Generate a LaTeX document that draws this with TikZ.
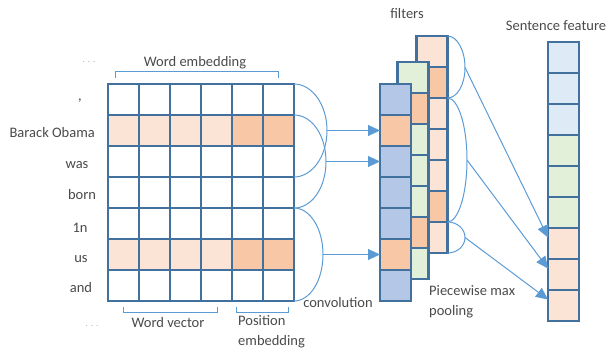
\documentclass[tikz,border=0pt]{standalone}
\usepackage{fontspec}
\setmainfont{Carlito}
\usetikzlibrary{arrows.meta}
\definecolor{bord}{HTML}{41719C}
\definecolor{lnk}{HTML}{5B9BD5}
\definecolor{txt}{HTML}{4A4A4A}
\definecolor{pl}{HTML}{FBE4D5}
\definecolor{pd}{HTML}{F7C7A6}
\definecolor{bb}{HTML}{B4C7E7}
\definecolor{gg}{HTML}{E2F0D9}
\definecolor{sb}{HTML}{DEEBF7}
\begin{document}
\begin{tikzpicture}[x=1pt,y=-1pt,
  cell/.style={draw=bord, line width=2.2pt, minimum width=31pt, minimum height=31pt, inner sep=0pt, outer sep=0pt},
  lbl/.style={text=txt, font=\fontsize{14.5}{20}\selectfont, inner sep=0pt},
  dots/.style={text=gray!70, font=\fontsize{9}{10}\selectfont, inner sep=0pt},
  link/.style={draw=lnk, line width=1pt},
  arr/.style={link, -{Triangle[length=12pt,width=11pt]}},
  brk/.style={draw=lnk, line width=1pt}
]
\useasboundingbox (0,0) rectangle (608,350);

% input grid
\foreach \r in {0,2,3,4,6}
  \foreach \c in {0,...,5}
    \node[cell, fill=white] (g-\r-\c) at ({123.5+31*\c},{99.5+31*\r}) {};
\foreach \r in {1,5}
  \foreach \c/\f in {0/pl,1/pl,2/pl,3/pl,4/pd,5/pd}
    \node[cell, fill=\f] (g-\r-\c) at ({123.5+31*\c},{99.5+31*\r}) {};

% filter columns (back, green, blue)
\foreach \r/\f in {0/pl,1/pd,2/pl,3/pl,4/pl,5/pd,6/pl}
  \node[cell, fill=\f] (k-\r) at (432,{51.5+31*\r}) {};
\foreach \r/\f in {0/gg,1/pd,2/gg,3/gg,4/gg,5/pd,6/gg}
  \node[cell, fill=\f] (m-\r) at (413,{77.5+31*\r}) {};
\foreach \r/\f in {0/bb,1/pd,2/bb,3/bb,4/bb,5/pd,6/bb}
  \node[cell, fill=\f] (b-\r) at (395.5,{99.5+31*\r}) {};

% sentence feature column
\foreach \r/\f in {0/sb,1/sb,2/sb,3/gg,4/gg,5/gg,6/pl,7/pl,8/pl}
  \node[cell, fill=\f] (s-\r) at (563.5,{57.5+31*\r}) {};

% convolution arcs
\coordinate (p1) at (327,130.5);
\coordinate (p2) at (326,161.5);
\coordinate (p3) at (323,254.5);
\draw[link] (g-0-5.north east) .. controls +(18,0) and +(0,-26) .. (p1) .. controls +(0,26) and +(18,0) .. (g-2-5.south east);
\draw[link] (g-1-5.north east) .. controls +(18,0) and +(0,-26) .. (p2) .. controls +(0,26) and +(18,0) .. (g-3-5.south east);
\draw[link] (g-4-5.north east) .. controls +(16,0) and +(0,-26) .. (p3) .. controls +(0,26) and +(16,0) .. (g-6-5.south east);
\draw[arr] (p1) -- (b-1.west);
\draw[arr] (p2) -- (b-2.west);
\draw[arr] (p3) -- (b-5.west);

% pooling arcs
\coordinate (q1) at (465,67.5);
\coordinate (q2) at (467,160);
\coordinate (q3) at (465,237.5);
\draw[link] (k-0.north east) .. controls +(9.7,0) and +(0,-17) .. (q1) .. controls +(0,17) and +(9.7,0) .. (k-1.south east);
\draw[link] (k-2.north east) .. controls +(10.8,0) and +(0,-34) .. (q2) .. controls +(0,34) and +(10.8,0) .. (k-5.south east);
\draw[link] (k-6.north east) .. controls +(9.7,0) and +(0,-8.6) .. (q3) .. controls +(0,8.6) and +(9.7,0) .. (k-6.south east);
\draw[arr] (q1) -- ([yshift=6pt]s-6.west);
\draw[arr] (q2) -- ([yshift=6pt]s-7.west);
\draw[arr] (q3) -- ([yshift=6pt]s-8.west);

% brackets
\draw[brk] (115,78) -- (115,72) -- (278,72) -- (278,78);
\draw[brk] (123,307) -- (123,312) -- (217,312) -- (217,307);
\draw[brk] (236,307) -- (236,312) -- (288,312) -- (288,307);

% labels
\node[lbl] (tfilt) at (407,14) {filters};
\node[lbl] (tsent) at (556,26) {Sentence feature};
\node[lbl] (temb) at (195,63) {Word embedding};
\node[lbl] (tconv) at (338,303) {convolution};
\node[lbl, align=left, anchor=west] (tpool) at (429,302) {Piecewise max\\pooling};
\node[lbl] (twv) at (168,323) {Word vector};
\node[lbl, align=left, anchor=west] (tpos) at (238,332) {Position\\embedding};

\node[lbl] (w0) at (80,101) {,};
\node[lbl, anchor=east] (w1) at (95,133) {Barack Obama};
\node[lbl] (w2) at (77,165) {was};
\node[lbl] (w3) at (82,195) {born};
\node[lbl] (w4) at (80,228) {1n};
\node[lbl] (w5) at (81,259) {us};
\node[lbl] (w6) at (81,288) {and};
\node[dots] (d0) at (89,62) {.\hspace{3pt}.\hspace{3pt}.};
\node[dots] (d1) at (92,326) {.\hspace{3pt}.\hspace{3pt}.};
\end{tikzpicture}
\end{document}
